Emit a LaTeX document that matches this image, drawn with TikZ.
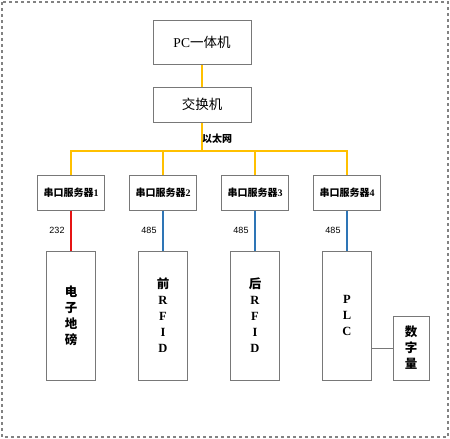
\documentclass[tikz,border=0pt]{standalone}
\usepackage{fontspec}
\setmainfont{Liberation Serif}
\newfontfamily\cjk{Noto Sans CJK SC}
\newfontfamily\arial{Liberation Sans}
\definecolor{boxgray}{RGB}{120,120,120}
\definecolor{ethyellow}{RGB}{255,192,0}
\definecolor{rsred}{RGB}{230,20,20}
\definecolor{rsblue}{RGB}{46,117,182}
\definecolor{framegray}{RGB}{130,130,130}
\begin{document}
\begin{tikzpicture}[x=1pt,y=-1pt,
  box/.style={draw=boxgray,line width=1pt,fill=white,rectangle,inner sep=0pt,align=center},
  eth/.style={draw=ethyellow,line width=2pt},
  rsa/.style={draw=rsred,line width=2pt},
  rsb/.style={draw=rsblue,line width=2pt},
  plain/.style={draw=boxgray,line width=1pt},
  numlbl/.style={font=\arial\fontsize{9}{10}\selectfont,inner sep=0pt},
  vtext/.style={font=\bfseries\fontsize{12.5}{16}\selectfont}]
\useasboundingbox (0,0) rectangle (450,439);
\draw[framegray,line width=1.2pt,dashed] (2,2) rectangle (448,437);
\node[box,minimum width=98pt,minimum height=44pt,font=\fontsize{13.5}{15}\selectfont] (pc) at (202,42.5) {PC{\cjk 一体机}};
\node[box,minimum width=98pt,minimum height=35pt,font=\cjk\fontsize{13.5}{15}\selectfont] (sw) at (202,104.5) {交换机};
\foreach \i/\x in {1/71,2/163,3/255,4/347}{
  \node[box,minimum width=67pt,minimum height=35pt,font=\bfseries\fontsize{10}{12}\selectfont] (s\i) at (\x,192.5) {{\cjk 串口服务器}\i};
}
\node[box,minimum width=49pt,minimum height=129pt,vtext] (d1) at (71,315.5) {\cjk 电\\\cjk 子\\\cjk 地\\\cjk 磅};
\node[box,minimum width=49pt,minimum height=129pt,vtext] (d2) at (163,315.5) {{\cjk 前}\\R\\F\\I\\D};
\node[box,minimum width=49pt,minimum height=129pt,vtext] (d3) at (255,315.5) {{\cjk 后}\\R\\F\\I\\D};
\node[box,minimum width=49pt,minimum height=129pt,vtext] (d4) at (347,315.5) {P\\L\\C};
\node[box,minimum width=36pt,minimum height=64pt,vtext] (dq) at (411,348) {\cjk 数\\\cjk 字\\\cjk 量};
\coordinate (bus) at (202,151);
\draw[eth] (pc.south) -- (sw.north);
\draw[eth] (sw.south) -- (bus);
\draw[eth] (s1.north) |- (bus) -| (s4.north);
\draw[eth] (s2.north) -- (s2.north|-bus);
\draw[eth] (s3.north) -- (s3.north|-bus);
\node[font=\cjk\bfseries\fontsize{10}{12}\selectfont,inner sep=0pt] (ethlbl) at (217,139) {以太网};
\draw[rsa] (s1.south) -- (d1.north);
\draw[rsb] (s2.south) -- (d2.north);
\draw[rsb] (s3.south) -- (d3.north);
\draw[rsb] (s4.south) -- (d4.north);
\node[numlbl] (l1) at (57,230.5) {232};
\node[numlbl] (l2) at (149,230.5) {485};
\node[numlbl] (l3) at (241,230.5) {485};
\node[numlbl] (l4) at (333,230.5) {485};
\draw[plain] (d4.east|-dq.west) -- (dq.west);
\end{tikzpicture}
\end{document}
